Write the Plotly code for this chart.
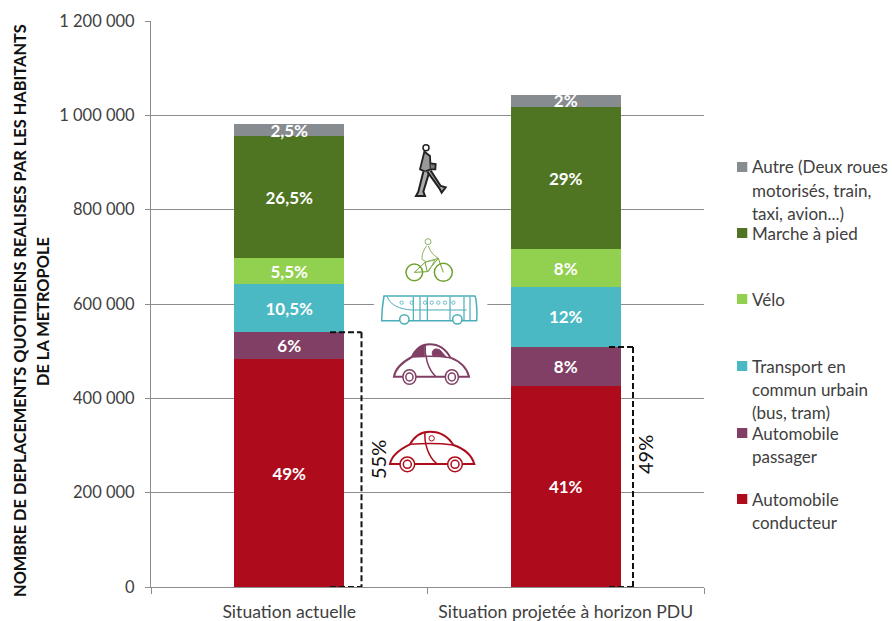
import plotly.graph_objects as go

categories = ["Situation actuelle", "Situation projetée à horizon PDU"]
conducteur = [483000, 426000]
passager = [57000, 83000]
transport = [102000, 127000]
velo = [55000, 80000]
marche = [259000, 302000]
autre = [25000, 25000]
lab_conducteur = ["49%", "41%"]
lab_passager = ["6%", "8%"]
lab_transport = ["10,5%", "12%"]
lab_velo = ["5,5%", "8%"]
lab_marche = ["26,5%", "29%"]
lab_autre = ["2,5%", "2%"]
tick_values = [0, 200000, 400000, 600000, 800000, 1000000, 1200000]
tick_labels = ["0", "200 000", "400 000", "600 000", "800 000", "1 000 000", "1 200 000"]
series_names = ["Automobile conducteur", "Automobile passager", "Transport en commun urbain (bus, tram)",
                "Vélo", "Marche à pied", "Autre (Deux roues motorisés, train, taxi, avion...)"]
legend_lines = [
    ["Autre (Deux roues", "motorisés, train,", "taxi, avion...)"],
    ["Marche à pied"],
    ["Vélo"],
    ["Transport en", "commun urbain", "(bus, tram)"],
    ["Automobile", "passager"],
    ["Automobile", "conducteur"],
]
colors = ["#AE0B1C", "#823F66", "#4BB9C3", "#92D050", "#4F7523", "#878C90"]

W, H = 892, 621
L, R, T, B = 151, 704, 21, 587
FONT = "Lato"
TXT = "#404040"
GRID = "#8C8C8C"


def px(x):
    return (x - L) / (R - L)


def py(y):
    return (B - y) / (B - T)


def mk_path(segments, fx, fy):
    out = []
    for seg in segments:
        cmd, nums = seg[0], seg[1:]
        pts = []
        for i in range(0, len(nums), 2):
            pts.append(f"{px(fx(nums[i])):.5f},{py(fy(nums[i + 1])):.5f}")
        out.append(cmd + " ".join(pts))
    return " ".join(out)


shapes = []


def add_path(segments, fx, fy, color, width=1.5, fill=None, close=False):
    d = mk_path(segments, fx, fy) + (" Z" if close else "")
    shapes.append(dict(type="path", xref="paper", yref="paper", path=d,
                       line=dict(color=color, width=width),
                       fillcolor=fill if fill else "rgba(0,0,0,0)", layer="above"))


def add_circle(cx, cy, r, fx, fy, color, width=1.5, fill=None):
    shapes.append(dict(type="circle", xref="paper", yref="paper",
                       x0=px(fx(cx - r)), x1=px(fx(cx + r)),
                       y0=py(fy(cy - r)), y1=py(fy(cy + r)),
                       line=dict(color=color, width=width),
                       fillcolor=fill if fill else "rgba(0,0,0,0)", layer="above"))


def car(fx, fy, color, filled=False):
    add_path([("M", 210, 432), ("C", 215, 405, 245, 385, 270, 373), ("C", 285, 345, 305, 335, 330, 335),
              ("C", 360, 335, 385, 350, 400, 375), ("C", 430, 385, 455, 405, 463, 432)],
             fx, fy, color, 2, close=True, fill="#FFFFFF")
    if filled:
        add_path([("M", 272, 372), ("C", 285, 350, 300, 342, 312, 340), ("L", 312, 372)], fx, fy, color, 1, fill=color, close=True)
        add_path([("M", 340, 368), ("C", 335, 350, 350, 345, 365, 352), ("L", 385, 372)], fx, fy, color, 1, fill=color, close=True)
    add_path([("M", 270, 373), ("C", 310, 370, 360, 370, 400, 375)], fx, fy, color, 1.5)
    add_path([("M", 315, 335), ("C", 312, 370, 325, 410, 350, 431)], fx, fy, color, 1.5)
    if not filled:
        add_circle(335, 355, 8, fx, fy, color, 1)
    for cx in (262, 405):
        add_circle(cx, 433, 22, fx, fy, color, 1.5, fill="#FFFFFF")
        add_circle(cx, 433, 12, fx, fy, color, 1.5, fill="#FFFFFF")


# red car (3x crop coordinates, origin 320,320)
car(lambda x: 320 + x / 3, lambda y: 320 + y / 3, colors[0])
# passenger car
car(lambda x: 320 + (222 + (x - 210) * 0.89) / 3, lambda y: 320 + (y - 262) / 3, colors[1], filled=True)

fx2 = lambda x: 370 + x / 3
fy2 = lambda y: 130 + y / 3

# white band behind the bus
add_path([("M", 12, 485), ("L", 352, 485), ("L", 352, 590), ("L", 12, 590)], fx2, fy2, "#FFFFFF", 0, fill="#FFFFFF", close=True)
# bus
BUS = "#4AAEB8"
add_path([("M", 42, 498), ("L", 315, 498), ("C", 320, 510, 322, 550, 320, 572), ("L", 35, 572), ("C", 35, 545, 38, 520, 42, 498)],
         fx2, fy2, BUS, 1.5, close=True)
add_path([("M", 52, 500), ("C", 60, 525, 90, 538, 125, 540), ("L", 290, 540)], fx2, fy2, BUS, 1)
for xb in (130, 150, 172, 240, 282, 300):
    add_path([("M", xb, 500), ("L", xb, 570)], fx2, fy2, BUS, 1.2)
for xb in (95, 125, 165, 185, 205, 225, 250):
    add_circle(xb, 518, 5, fx2, fy2, BUS, 0.8)
for cx in (103, 262):
    add_circle(cx, 568, 14, fx2, fy2, BUS, 1.5, fill="#FFFFFF")

# bike and rider
BIKE = "#6FA22F"
add_circle(133, 427, 25, fx2, fy2, BIKE, 1.5)
add_circle(220, 427, 27, fx2, fy2, BIKE, 1.5)
add_path([("M", 133, 427), ("L", 165, 397), ("L", 205, 385), ("L", 220, 427)], fx2, fy2, BIKE, 1)
add_path([("M", 165, 397), ("L", 172, 425), ("L", 133, 427)], fx2, fy2, BIKE, 1)
add_path([("M", 172, 425), ("L", 205, 385)], fx2, fy2, BIKE, 1)
add_circle(174, 335, 9, fx2, fy2, "#8DB561", 1)
add_path([("M", 170, 347), ("C", 160, 360, 155, 375, 156, 388), ("L", 168, 395), ("L", 195, 390), ("L", 175, 425)], fx2, fy2, "#8DB561", 1)
add_path([("M", 175, 348), ("C", 180, 365, 190, 375, 205, 385)], fx2, fy2, "#8DB561", 1)

# walker
WALK = "#222222"
add_circle(168, 53, 9, fx2, fy2, WALK, 1.5)
add_path([("M", 163, 65), ("L", 150, 118), ("L", 165, 125), ("L", 182, 118), ("L", 180, 78)], fx2, fy2, WALK, 1.8, close=True, fill="#999999")
add_path([("M", 182, 100), ("L", 197, 102), ("L", 196, 118), ("L", 182, 118)], fx2, fy2, WALK, 1.8, fill="#777777")
add_path([("M", 160, 125), ("L", 145, 185), ("L", 138, 198), ("L", 165, 198), ("L", 160, 185), ("L", 178, 125)], fx2, fy2, WALK, 2, fill="#AAAAAA")
add_path([("M", 172, 125), ("L", 208, 175), ("L", 215, 188), ("L", 227, 172), ("L", 212, 168), ("L", 182, 122)], fx2, fy2, WALK, 2, fill="#AAAAAA")

# dashed brackets, tied to the stacked values
first_total = conducteur[0] + passager[0]
second_total = conducteur[1] + passager[1]
BRACKET = dict(color="#111111", width=2, dash="6px,3px")
for xa, xb, top in [(330, 361.5, first_total), (609, 633, second_total)]:
    xa_p, xb_p = px(xa), px(xb)
    shapes.append(dict(type="line", xref="paper", yref="y", x0=xa_p, x1=xb_p, y0=top, y1=top, line=BRACKET, layer="above"))
    shapes.append(dict(type="line", xref="paper", yref="y", x0=xb_p, x1=xb_p, y0=top, y1=0, line=BRACKET, layer="above"))
    shapes.append(dict(type="line", xref="paper", yref="y", x0=xa_p, x1=xb_p, y0=0, y1=0, line=BRACKET, layer="above"))


def note(text, x, y, size, color, angle=0, bold=False, xanchor="center"):
    font = dict(family=FONT, size=size, color=color)
    if bold:
        font["weight"] = "bold"
    return dict(text=text, x=px(x), y=py(y), xref="paper", yref="paper", textangle=angle, showarrow=False,
                xanchor=xanchor, yanchor="middle", align="left", font=font)


annotations = [
    note("55%", 378, 460, 20, "#111111", -90),
    note("49%", 645, 455, 20, "#111111", -90),
    note("NOMBRE DE DEPLACEMENTS QUOTIDIENS REALISES PAR LES HABITANTS", 19, 311, 16.4, "#111111", -90, True),
    note("DE LA METROPOLE", 42, 312, 16.4, "#111111", -90, True),
]

swatch_centers = [167, 233, 299, 366, 433, 499]
for lines, cy, col in zip(legend_lines, swatch_centers, colors[::-1]):
    shapes.append(dict(type="rect", xref="paper", yref="paper", x0=px(737), x1=px(747.3),
                       y0=py(cy - 5), y1=py(cy + 5), fillcolor=col, line=dict(width=0), layer="above"))
    for i, line in enumerate(lines):
        annotations.append(note(line, 750, cy + i * 23.4, 17, TXT, xanchor="left"))

fig = go.Figure()
series = [conducteur, passager, transport, velo, marche, autre]
labels = [lab_conducteur, lab_passager, lab_transport, lab_velo, lab_marche, lab_autre]
for name, vals, labs, col in zip(series_names, series, labels, colors):
    fig.add_bar(x=categories, y=vals, name=name, text=labs, marker=dict(color=col, line=dict(width=0)),
                textposition="inside", insidetextanchor="middle", textangle=0, constraintext="none",
                textfont=dict(family=FONT, size=17, color="#FFFFFF", weight="bold"), showlegend=False)

fig.update_layout(
    width=W, height=H, barmode="stack", bargap=0.601,
    margin=dict(l=L, r=W - R, t=T, b=H - B, pad=0, autoexpand=False),
    plot_bgcolor="#FFFFFF", paper_bgcolor="#FFFFFF",
    shapes=shapes, annotations=annotations, showlegend=False,
    font=dict(family=FONT, color=TXT),
    xaxis=dict(type="category", range=[-0.5, 1.5], tickson="boundaries", ticks="outside", ticklen=6,
               tickcolor=GRID, showline=True, linecolor=GRID, linewidth=1, showgrid=False,
               ticklabelstandoff=9, tickfont=dict(family=FONT, size=17.6, color=TXT)),
    yaxis=dict(range=[0, 1200000], tickvals=tick_values, ticktext=tick_labels, ticks="outside", ticklen=5,
               tickcolor=GRID, showline=True, linecolor=GRID, linewidth=1, showgrid=True, gridcolor=GRID,
               gridwidth=1, zeroline=False, ticklabelstandoff=7, tickfont=dict(family=FONT, size=16.5, color=TXT)),
)
fig.write_html("out.html", post_script="document.body.style.margin='0';", config={"displayModeBar": False})
